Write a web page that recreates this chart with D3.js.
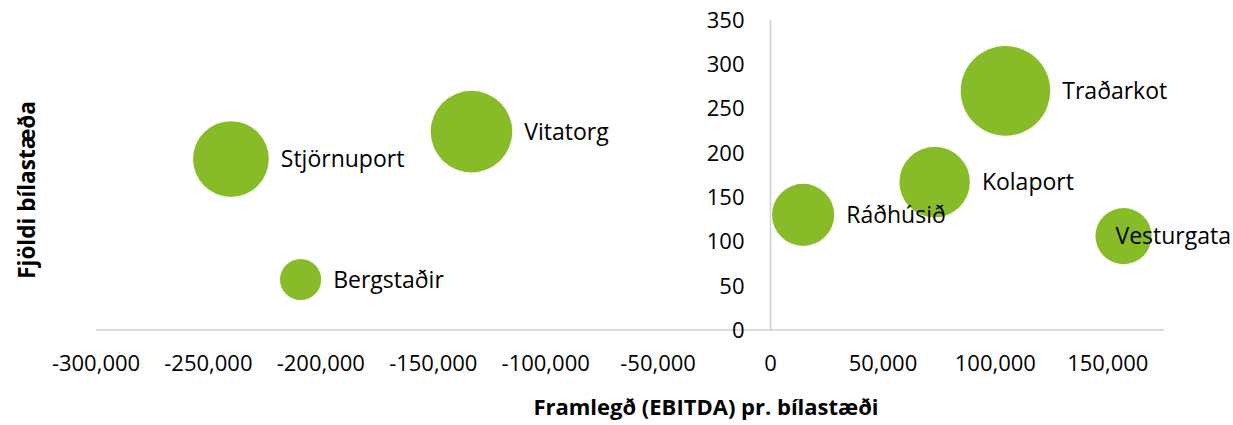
<!DOCTYPE html>
<html><head><meta charset="utf-8">
<script src="https://cdn.jsdelivr.net/npm/d3@7"></script>
<style>
html,body{margin:0;padding:0;background:#fff;}
svg{display:block;}
text{font-family:"Open Sans",sans-serif;fill:#000;}
</style></head>
<body>
<svg id="chart" width="1233" height="425"></svg>
<script>
const names = ["Stjörnuport","Vitatorg","Bergstaðir","Traðarkot","Kolaport","Ráðhúsið","Vesturgata"];
const ebitda = [-240000,-133000,-209000,104500,73000,14500,157000];
const spaces = [193,224,57,270,167,130,106];
const bubbleSize = [193,224,57,270,167,130,106];
const xTicks = [-300000,-250000,-200000,-150000,-100000,-50000,0,50000,100000,150000];
const yTicks = [0,50,100,150,200,250,300,350];
const xTitle = "Framlegð (EBITDA) pr. bílastæði";
const yTitle = "Fjöldi bílastæða";

const W = 1233, H = 425;
const svg = d3.select("#chart");
const x = d3.scaleLinear().domain([-300000,175000]).range([96,1164]);
const y = d3.scaleLinear().domain([0,350]).range([330,20]);
const r = d3.scaleSqrt().domain([0,270]).range([0,44.8]);
const fmt = d3.formatLocale({decimal:".",thousands:",",grouping:[3],currency:["",""],minus:"-"}).format(",");
const axisColor = "#d0d0d0";
const green = "#87bc28";

// axis lines
svg.append("line").attr("x1",x.range()[0]).attr("x2",x.range()[1])
  .attr("y1",y(0)).attr("y2",y(0)).attr("stroke",axisColor).attr("stroke-width",1.5);
svg.append("line").attr("x1",x(0)).attr("x2",x(0))
  .attr("y1",y(350)).attr("y2",y(0)).attr("stroke",axisColor).attr("stroke-width",1.5);

// x tick labels
svg.append("g").selectAll("text").data(xTicks).join("text")
  .attr("x",d=>x(d)).attr("y",371).attr("text-anchor","middle")
  .attr("font-size",22).text(d=>fmt(d));

// y tick labels
svg.append("g").selectAll("text").data(yTicks).join("text")
  .attr("x",x(0)-26).attr("y",d=>y(d)).attr("dy","0.36em").attr("text-anchor","end")
  .attr("font-size",22).text(d=>d);

// bubbles
const data = names.map((n,i)=>({name:n,x:ebitda[i],y:spaces[i],s:bubbleSize[i]}));
svg.append("g").selectAll("circle").data(data).join("circle")
  .attr("cx",d=>x(d.x)).attr("cy",d=>y(d.y)).attr("r",d=>r(d.s)).attr("fill",green);

// labels
const lbl = svg.append("g").selectAll("text").data(data).join("text")
  .attr("x",d=>x(d.x)+r(d.s)+12).attr("y",d=>y(d.y)).attr("dy","0.36em")
  .attr("font-size",23).text(d=>d.name);
lbl.each(function(){
  const t = d3.select(this);
  const w = this.getComputedTextLength();
  const x0 = +t.attr("x");
  if (x0 + w > W - 2) t.attr("x", W - 2 - w);
});

// axis titles
svg.append("text").attr("x",706).attr("y",415).attr("text-anchor","middle")
  .attr("font-size",22).attr("font-weight","bold").text(xTitle);
svg.append("text").attr("transform","translate(35,190) rotate(-90)")
  .attr("text-anchor","middle").attr("font-size",22.5).attr("font-weight","bold").text(yTitle);
</script>
</body></html>
